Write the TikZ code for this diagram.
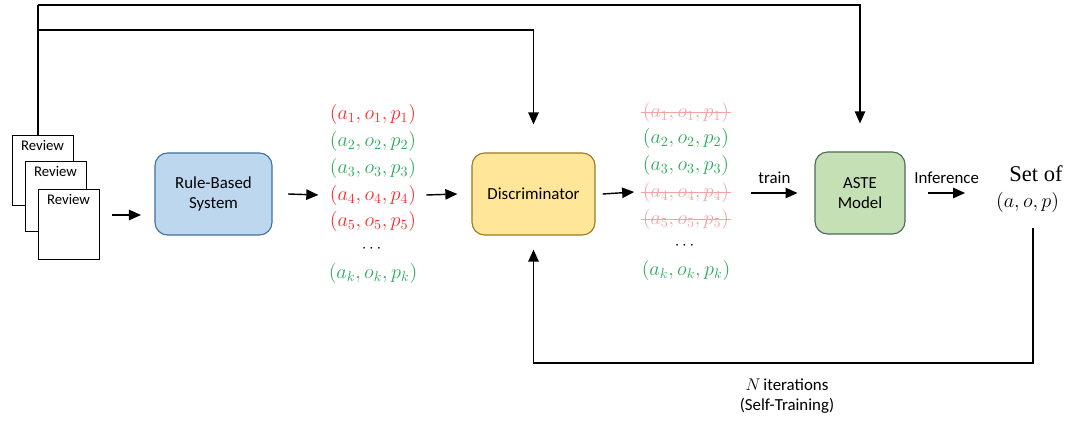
\documentclass[tikz,border=0pt]{standalone}
\usepackage{amsmath}
\usepackage{xcolor}
\usepackage{fontspec}
\setsansfont{Carlito}
\setmainfont{Liberation Serif}
\usepackage{tikz}
\usetikzlibrary{arrows.meta,positioning,calc}

\definecolor{tred}{HTML}{FF2A2A}
\definecolor{tgreen}{HTML}{2EAA5C}
\definecolor{tpink}{HTML}{F4A3A3}
\definecolor{rbfill}{HTML}{BDD7EE}
\definecolor{rbdraw}{HTML}{41719C}
\definecolor{dsfill}{HTML}{FFE699}
\definecolor{dsdraw}{HTML}{9C7A1C}
\definecolor{amfill}{HTML}{C5E0B4}
\definecolor{amdraw}{HTML}{4E6A5A}

\begin{document}
\begin{tikzpicture}[
  x=0.025cm, y=-0.025cm,
  font=\sffamily\fontsize{12}{14}\selectfont,
  box/.style={draw, line width=0.8pt, rounded corners=9pt, align=center,
              minimum height=2.05cm, inner sep=1.5pt},
  page/.style={draw, fill=white, line width=0.7pt, minimum width=1.525cm,
               minimum height=1.725cm, inner sep=0pt},
  tup/.style={font=\fontsize{14.5}{16}\selectfont, inner sep=1pt},
  struck/.style={tup, text=tpink,
                 append after command={([yshift=-0.6pt]\tikzlastnode.west)
                   edge[tpink, line width=0.5pt] ([yshift=-0.6pt]\tikzlastnode.east)}},
  flow/.style={-{Triangle[length=3mm, width=2.6mm]}, line width=1pt}
]
\useasboundingbox (0,0) rectangle (1069,425);

% review pages
\node[page, label={[anchor=north, inner sep=3pt, font=\sffamily\fontsize{10.5}{12}\selectfont]north:Review}] (p1) at (42.5,170.5) {};
\node[page, label={[anchor=north, inner sep=3pt, font=\sffamily\fontsize{10.5}{12}\selectfont]north:Review}] (p2) at (55.5,196.5) {};
\node[page, label={[anchor=north, inner sep=3pt, font=\sffamily\fontsize{10.5}{12}\selectfont]north:Review}] (p3) at (68.5,224.5) {};

% boxes
\node[box, fill=rbfill, draw=rbdraw, minimum width=2.925cm] (rule) at (213.5,194) {Rule-Based\\System};
\node[box, fill=dsfill, draw=dsdraw, minimum width=3.075cm] (disc) at (533.5,194) {Discriminator};
\node[box, fill=amfill, draw=amdraw, minimum width=2.25cm] (aste) at (860,193) {ASTE\\Model};

% candidate triplets
\node[tup, text=tred]   (l1) at (373,114) {$(a_1, o_1, p_1)$};
\node[tup, text=tgreen] (l2) at (373,141) {$(a_2, o_2, p_2)$};
\node[tup, text=tgreen] (l3) at (373,168) {$(a_3, o_3, p_3)$};
\node[tup, text=tred]   (l4) at (373,195) {$(a_4, o_4, p_4)$};
\node[tup, text=tred]   (l5) at (373,221) {$(a_5, o_5, p_5)$};
\node[inner sep=0pt]    (l6) at (373,249) {$\cdots$};
\node[tup, text=tgreen] (l7) at (373,273) {$(a_k, o_k, p_k)$};

% filtered triplets
\node[struck]           (r1) at (686,112) {$(a_1, o_1, p_1)$};
\node[tup, text=tgreen] (r2) at (686,138) {$(a_2, o_2, p_2)$};
\node[tup, text=tgreen] (r3) at (686,165) {$(a_3, o_3, p_3)$};
\node[struck]           (r4) at (686,192) {$(a_4, o_4, p_4)$};
\node[struck]           (r5) at (686,219) {$(a_5, o_5, p_5)$};
\node[inner sep=0pt]    (r6) at (686,246) {$\cdots$};
\node[tup, text=tgreen] (r7) at (686,270) {$(a_k, o_k, p_k)$};

% output
\node[font=\rmfamily\fontsize{16}{18}\selectfont] (setof) at (1036,174) {Set of};
\node[font=\fontsize{14.5}{17}\selectfont, below=0pt of setof.south, anchor=north, xshift=-6pt] (aop) {$(a, o, p)$};

% forward arrows
\coordinate (s1) at (112,215);
\coordinate (e1) at (141,215);
\draw[flow] (s1) -- (e1);
\draw[flow] ([xshift=11pt]rule.east) -- ([xshift=-7pt]l4.west);
\draw[flow] ([xshift=6pt]l4.east) -- ([xshift=-10pt]disc.west);
\draw[flow] ([xshift=5pt]disc.east) -- ([xshift=-5pt]r4.west);
\draw[flow] ([xshift=-45pt]aste.west) -- node[above=3pt] (train) {train} ([xshift=-12pt]aste.west);
\draw[flow] ([xshift=16pt]aste.east) -- node[above=3pt] (infer) {Inference} ([xshift=-28pt]setof.west |- aste.east);

% raw reviews fed forward
\coordinate (top1) at (38,5);
\coordinate (top2) at (38,30);
\draw[line width=1pt] (p1.north -| top1) -- (top1);
\draw[flow, shorten >=0.7cm] (top1) -| (aste.north);
\draw[flow, shorten >=0.7cm] (top2) -| (disc.north);

% self-training loop
\coordinate (loop) at (1033,363);
\draw[flow, shorten >=0.35cm] ([yshift=-8pt]aop.south -| loop) -- (loop) -| (disc.south);
\node[align=center] (iter) at (787,396) {$N$\,iterations\\(Self-Training)};
\end{tikzpicture}
\end{document}
